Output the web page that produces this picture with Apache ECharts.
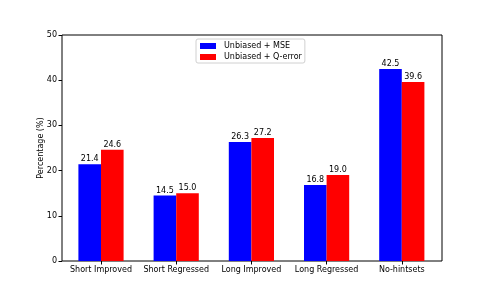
<!DOCTYPE html>
<html>
<head>
<meta charset="utf-8">
<script src="https://cdn.jsdelivr.net/npm/echarts@6/dist/echarts.min.js"></script>
<style>html,body{margin:0;padding:0;background:#fff;}#c{width:491px;height:294px;}</style>
</head>
<body>
<div id="c"></div>
<script>
var categories = ['Short Improved', 'Short Regressed', 'Long Improved', 'Long Regressed', 'No-hintsets'];
var mseValues = [21.4, 14.5, 26.3, 16.8, 42.5];
var qerrorValues = [24.6, 15.0, 27.2, 19.0, 39.6];
var seriesNames = ['Unbiased + MSE', 'Unbiased + Q-error'];
var yTicks = [0, 10, 20, 30, 40, 50];

var FONT = 'DejaVu Sans';
var chart = echarts.init(document.getElementById('c'), null, {renderer: 'canvas'});
var lbl = {show: true, position: 'top', distance: 1, fontFamily: FONT, fontSize: 8, color: '#000',
  formatter: function (p) { return p.value.toFixed(1); }};
chart.setOption({
  animation: false,
  backgroundColor: '#fff',
  textStyle: {fontFamily: FONT},
  legend: {
    orient: 'vertical', left: 196, top: 39,
    data: seriesNames,
    itemWidth: 16, itemHeight: 6, itemGap: 1,
    padding: [2, 3, 1, 4],
    borderColor: '#d0d0d0', borderWidth: 1, borderRadius: 2,
    icon: 'rect',
    textStyle: {fontFamily: FONT, fontSize: 8, color: '#000', lineHeight: 10, padding: [0, 0, 0, 3]}
  },
  grid: [
    {left: 62, right: 49, top: 35, bottom: 33, show: true, borderColor: '#000', borderWidth: 1, backgroundColor: 'transparent'},
    {left: 63.4, right: 51.6, top: 35, bottom: 33}
  ],
  xAxis: [
    {gridIndex: 0, type: 'value', min: 0, max: 1, show: false},
    {gridIndex: 1, type: 'category', data: categories,
      axisLine: {show: false},
      axisTick: {show: true, alignWithLabel: true, length: 3.5, lineStyle: {color: '#000'}},
      axisLabel: {interval: 0, fontFamily: FONT, fontSize: 8, color: '#000', margin: 5}}
  ],
  yAxis: [
    {gridIndex: 0, type: 'value', min: yTicks[0], max: yTicks[yTicks.length - 1], interval: 10,
      name: 'Percentage (%)', nameLocation: 'middle', nameGap: 17, nameRotate: 90, nameMoveOverlap: false,
      nameTextStyle: {fontFamily: FONT, fontSize: 8, color: '#000'},
      axisLine: {show: false},
      axisTick: {show: true, length: 3.5, lineStyle: {color: '#000'}},
      splitLine: {show: false},
      axisLabel: {fontFamily: FONT, fontSize: 8, color: '#000', margin: 5}},
    {gridIndex: 1, type: 'value', min: yTicks[0], max: yTicks[yTicks.length - 1], show: false, splitLine: {show: false}}
  ],
  series: [
    {name: seriesNames[0], type: 'bar', xAxisIndex: 1, yAxisIndex: 1, data: mseValues,
      barWidth: 22.6, barGap: '0%', itemStyle: {color: '#0000ff'}, label: lbl},
    {name: seriesNames[1], type: 'bar', xAxisIndex: 1, yAxisIndex: 1, data: qerrorValues,
      barWidth: 22.6, barGap: '0%', itemStyle: {color: '#ff0000'}, label: lbl}
  ]
});
</script>
</body>
</html>
